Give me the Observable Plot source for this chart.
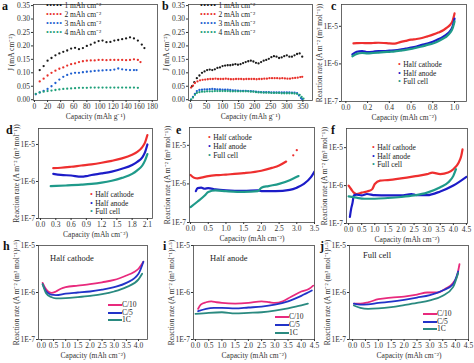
<!DOCTYPE html>
<html><head><meta charset="utf-8">
<script src="https://cdn.jsdelivr.net/npm/d3@7"></script>
<script src="https://cdn.jsdelivr.net/npm/@observablehq/plot@0.6"></script>
<style>
body{margin:0;background:#fff;}
#wrap{position:relative;width:474px;height:363px;overflow:hidden;font-family:"Liberation Serif",serif;background:#fff;}
#wrap svg{position:absolute;left:0;top:0;}
.pl{position:absolute;font-family:"Liberation Serif",serif;font-weight:bold;font-size:12px;line-height:1;color:#111;}
.leg{position:absolute;font-family:"Liberation Serif",serif;font-size:7.5px;line-height:1;white-space:nowrap;color:#222;}
.ttl{position:absolute;font-family:"Liberation Serif",serif;font-size:8.5px;line-height:1;white-space:nowrap;color:#222;}
</style></head><body><div id="wrap"></div>
<script>
// ---------- data ----------
// panel a: J (mA cm^-2) vs capacity (mAh g^-1)
const a1 = [[8,0.11],[14,0.125],[20,0.145],[26,0.155],[32,0.165],[38,0.172],[44,0.178],[50,0.183],[56,0.19],[62,0.193],[68,0.188],[74,0.192],[80,0.2],[86,0.205],[92,0.212],[98,0.218],[104,0.22],[110,0.214],[116,0.215],[122,0.22],[128,0.222],[134,0.225],[140,0.228],[146,0.232],[152,0.228],[158,0.22],[164,0.205],[168,0.192]];
const a2 = [[8,0.068],[14,0.078],[20,0.09],[26,0.1],[32,0.108],[38,0.115],[44,0.12],[50,0.127],[56,0.132],[62,0.135],[68,0.14],[74,0.143],[80,0.145],[86,0.146],[92,0.146],[98,0.148],[104,0.148],[110,0.147],[116,0.148],[122,0.148],[128,0.148],[134,0.148],[140,0.147],[146,0.148],[152,0.15],[158,0.148],[162,0.14]];
const a3 = [[2,0.02],[8,0.027],[14,0.033],[20,0.04],[26,0.05],[32,0.062],[38,0.075],[44,0.085],[50,0.092],[56,0.097],[62,0.1],[68,0.1],[74,0.102],[80,0.104],[86,0.105],[92,0.107],[98,0.108],[104,0.109],[110,0.11],[116,0.11],[122,0.112],[128,0.116],[134,0.113],[140,0.111],[146,0.11],[152,0.11],[156,0.11]];
const a4 = [[2,0.022],[8,0.027],[14,0.03],[20,0.032],[26,0.034],[32,0.036],[38,0.038],[44,0.04],[50,0.041],[56,0.042],[62,0.043],[68,0.044],[74,0.044],[80,0.044],[86,0.045],[92,0.045],[98,0.045],[104,0.045],[110,0.045],[116,0.045],[122,0.045],[128,0.045],[134,0.045],[140,0.045],[146,0.045],[152,0.045],[158,0.044]];
// panel b
const b1 = [[5,0.05],[12,0.065],[20,0.08],[28,0.09],[36,0.1],[44,0.105],[52,0.11],[60,0.112],[68,0.11],[76,0.113],[84,0.118],[92,0.12],[100,0.125],[108,0.127],[116,0.128],[124,0.128],[132,0.13],[140,0.132],[148,0.13],[156,0.132],[164,0.136],[172,0.14],[180,0.143],[188,0.145],[196,0.142],[204,0.137],[212,0.135],[220,0.14],[228,0.145],[236,0.148],[244,0.152],[252,0.158],[260,0.162],[268,0.16],[276,0.155],[284,0.157],[292,0.162],[300,0.165],[308,0.16],[316,0.16],[324,0.165],[332,0.17],[340,0.172],[348,0.16]];
const b2 = [[2,0.045],[8,0.052],[14,0.062],[22,0.068],[30,0.072],[38,0.074],[46,0.075],[54,0.076],[62,0.077],[70,0.077],[78,0.078],[86,0.077],[94,0.077],[102,0.077],[110,0.078],[118,0.077],[126,0.076],[134,0.076],[142,0.077],[150,0.077],[158,0.077],[166,0.076],[174,0.077],[182,0.077],[190,0.077],[198,0.077],[206,0.076],[214,0.077],[222,0.077],[230,0.078],[238,0.078],[246,0.08],[254,0.08],[262,0.08],[270,0.08],[278,0.079],[286,0.08],[294,0.079],[302,0.078],[310,0.078],[318,0.08],[326,0.081],[334,0.082],[342,0.084],[348,0.085]];
const b3 = [[2,0.0],[8,0.01],[14,0.022],[20,0.032],[28,0.036],[36,0.037],[44,0.038],[52,0.038],[60,0.039],[68,0.04],[76,0.039],[84,0.038],[92,0.038],[100,0.037],[108,0.037],[116,0.037],[124,0.036],[132,0.035],[140,0.035],[148,0.034],[156,0.033],[164,0.033],[172,0.033],[180,0.032],[188,0.032],[196,0.031],[204,0.03],[212,0.029],[220,0.028],[228,0.028],[236,0.028],[244,0.028],[252,0.027],[260,0.027],[268,0.027],[276,0.027],[284,0.027],[292,0.027],[300,0.027],[308,0.027],[316,0.026],[324,0.026],[332,0.024],[338,0.016],[344,0.006],[348,0.002]];
const b4 = [[2,0.0],[8,0.008],[14,0.018],[20,0.025],[28,0.028],[36,0.03],[44,0.03],[52,0.031],[60,0.031],[68,0.031],[76,0.032],[84,0.032],[92,0.032],[100,0.032],[108,0.032],[116,0.032],[124,0.031],[132,0.031],[140,0.031],[148,0.031],[156,0.031],[164,0.031],[172,0.031],[180,0.031],[188,0.03],[196,0.03],[204,0.028],[212,0.027],[220,0.027],[228,0.026],[236,0.026],[244,0.026],[252,0.025],[260,0.025],[268,0.025],[276,0.025],[284,0.024],[292,0.024],[300,0.024],[308,0.024],[316,0.024],[324,0.023],[332,0.022],[340,0.018],[346,0.01],[352,0.004]];
// panel c
const cCat = [[0.07,3.5e-6],[0.1,3.55e-6],[0.15,3.6e-6],[0.2,3.55e-6],[0.25,3.6e-6],[0.3,3.65e-6],[0.35,3.6e-6],[0.4,3.5e-6],[0.45,3.45e-6],[0.5,3.8e-6],[0.55,4.1e-6],[0.6,4.4e-6],[0.65,4.6e-6],[0.7,4.9e-6],[0.75,5.4e-6],[0.8,6.0e-6],[0.85,6.8e-6],[0.9,8.0e-6],[0.93,9.2e-6],[0.96,1.1e-5],[0.98,1.35e-5],[1.0,2.2e-5]];
const cAn = [[0.06,1.8e-6],[0.1,2.1e-6],[0.15,2.2e-6],[0.2,2.05e-6],[0.25,2.1e-6],[0.3,2.2e-6],[0.35,2.2e-6],[0.4,2.25e-6],[0.45,2.3e-6],[0.5,2.4e-6],[0.55,2.55e-6],[0.6,2.7e-6],[0.65,2.9e-6],[0.7,3.2e-6],[0.75,3.5e-6],[0.8,3.9e-6],[0.85,4.5e-6],[0.9,5.4e-6],[0.93,6.2e-6],[0.96,7.5e-6],[0.98,9.5e-6],[1.0,1.6e-5]];
const cFull = [[0.06,1.6e-6],[0.1,1.85e-6],[0.15,1.95e-6],[0.2,1.9e-6],[0.25,1.95e-6],[0.3,2.0e-6],[0.35,2.05e-6],[0.4,2.1e-6],[0.45,2.15e-6],[0.5,2.25e-6],[0.55,2.35e-6],[0.6,2.5e-6],[0.65,2.7e-6],[0.7,2.9e-6],[0.75,3.2e-6],[0.8,3.5e-6],[0.85,4.0e-6],[0.9,4.8e-6],[0.93,5.5e-6],[0.96,6.8e-6],[0.98,8.5e-6],[1.0,1.35e-5]];
// panel d
const dCat = [[0.25,2.3e-6],[0.4,2.35e-6],[0.6,2.5e-6],[0.8,2.7e-6],[1.0,2.9e-6],[1.2,3.2e-6],[1.4,3.6e-6],[1.6,4.2e-6],[1.8,5.3e-6],[1.9,6.3e-6],[2.0,8.5e-6],[2.05,1.1e-5],[2.1,1.8e-5]];
const dAn = [[0.25,1.6e-6],[0.4,1.5e-6],[0.6,1.45e-6],[0.8,1.35e-6],[0.9,1.4e-6],[1.0,1.5e-6],[1.2,1.65e-6],[1.4,1.85e-6],[1.6,2.2e-6],[1.8,2.8e-6],[1.9,3.4e-6],[2.0,4.5e-6],[2.05,6.0e-6],[2.1,1.0e-5]];
const dFull = [[0.2,7.5e-7],[0.5,7.8e-7],[0.8,8.2e-7],[1.0,8.6e-7],[1.2,9.3e-7],[1.4,1.05e-6],[1.6,1.25e-6],[1.8,1.6e-6],[1.9,2.0e-6],[2.0,2.7e-6],[2.05,3.6e-6],[2.1,5.5e-6]];
// panel e
const eCat = [[0.0,1.7e-6],[0.1,1.45e-6],[0.2,1.4e-6],[0.3,1.45e-6],[0.5,1.6e-6],[0.8,1.7e-6],[1.0,1.75e-6],[1.5,1.9e-6],[2.0,2.2e-6],[2.3,2.6e-6],[2.5,3.0e-6],[2.7,3.8e-6]];
const eCatEnd = [[2.9,5.5e-6],[3.0,7.5e-6]];
const eAn = [[0.15,6.5e-7],[0.2,7.8e-7],[0.3,8.0e-7],[0.4,7.5e-7],[0.5,7.8e-7],[0.7,7.2e-7],[1.0,6.8e-7],[1.5,6.6e-7],[1.9,6.8e-7],[2.0,6.5e-7],[2.4,6.5e-7],[2.8,7.0e-7],[3.0,8.0e-7],[3.2,1.0e-6],[3.4,1.5e-6],[3.5,2.1e-6]];
const eFull = [[0.0,2.5e-7],[0.2,3.5e-7],[0.4,5.0e-7],[0.5,6.2e-7],[0.7,6.8e-7],[1.0,6.5e-7],[1.5,6.2e-7],[1.9,6.5e-7],[2.0,8.0e-7],[2.2,8.8e-7],[2.5,1.0e-6],[2.8,1.25e-6],[3.05,1.6e-6]];
// panel f
const fCat = [[0.0,1.0e-6],[0.1,8.0e-7],[0.2,6.5e-7],[0.3,6.0e-7],[0.5,6.5e-7],[0.7,7.0e-7],[0.9,8.0e-7],[1.0,1.1e-6],[1.2,1.35e-6],[1.5,1.4e-6],[2.0,1.55e-6],[2.5,1.75e-6],[3.0,2.0e-6],[3.2,2.2e-6],[3.5,2.0e-6],[3.8,2.2e-6],[4.0,2.7e-6],[4.2,4.0e-6],[4.3,6.0e-6],[4.35,9.0e-6]];
const fAn = [[0.05,1.5e-7],[0.1,2.5e-7],[0.15,3.5e-7],[0.2,5.5e-7],[0.3,5.8e-7],[0.5,5.5e-7],[0.7,6.0e-7],[1.0,5.6e-7],[1.5,5.5e-7],[2.0,5.5e-7],[2.4,6.0e-7],[2.6,5.6e-7],[3.0,5.6e-7],[3.5,7.0e-7],[4.0,1.0e-6],[4.5,1.7e-6]];
const fFull = [[0.0,5.2e-7],[0.3,4.8e-7],[0.6,4.5e-7],[1.0,4.5e-7],[1.5,4.7e-7],[2.0,5.0e-7],[2.5,5.5e-7],[3.0,6.5e-7],[3.5,9.0e-7],[3.8,1.2e-6],[4.0,1.8e-6],[4.1,2.7e-6]];
// panel h (half cathode, rates)
const hC10 = [[0.05,1.6e-6],[0.2,1.15e-6],[0.4,9.8e-7],[0.6,1.05e-6],[0.8,1.2e-6],[1.0,1.3e-6],[1.5,1.4e-6],[2.0,1.5e-6],[2.5,1.65e-6],[3.0,1.85e-6],[3.5,2.3e-6],[3.8,2.7e-6],[4.0,3.2e-6],[4.2,4.5e-6]];
const hC5 = [[0.05,1.5e-6],[0.2,1.05e-6],[0.4,9.0e-7],[0.6,8.8e-7],[1.0,9.5e-7],[1.5,1.0e-6],[2.0,1.05e-6],[2.5,1.15e-6],[3.0,1.3e-6],[3.5,1.6e-6],[4.0,2.5e-6],[4.2,4.5e-6]];
const h1C = [[0.05,1.5e-6],[0.2,9.5e-7],[0.4,8.0e-7],[0.6,7.5e-7],[1.0,7.6e-7],[1.5,8.0e-7],[2.0,8.5e-7],[2.5,9.2e-7],[3.0,1.05e-6],[3.5,1.3e-6],[4.0,1.9e-6],[4.15,2.5e-6]];
// panel i (half anode, rates)
const iC10 = [[0.1,4.5e-7],[0.2,5.5e-7],[0.4,6.2e-7],[0.6,6.5e-7],[0.8,6.2e-7],[1.0,6.0e-7],[1.5,5.8e-7],[2.0,6.0e-7],[2.5,6.5e-7],[2.8,6.2e-7],[3.0,6.0e-7],[3.3,6.5e-7],[3.6,8.0e-7],[4.0,1.05e-6],[4.3,1.2e-6],[4.45,1.4e-6]];
const iC5 = [[0.1,4.0e-7],[0.4,4.5e-7],[0.7,4.7e-7],[1.0,4.7e-7],[1.5,4.6e-7],[2.0,4.8e-7],[2.5,5.0e-7],[3.0,5.5e-7],[3.5,6.5e-7],[4.0,8.5e-7],[4.4,1.1e-6]];
const i1C = [[0.0,3.5e-7],[0.5,3.7e-7],[1.0,3.8e-7],[1.5,3.6e-7],[2.0,3.7e-7],[2.5,3.8e-7],[3.0,4.1e-7],[3.5,4.6e-7],[4.0,5.3e-7],[4.25,5.8e-7]];
// panel j (full cell, rates)
const jC10 = [[0.05,5.8e-7],[0.3,5.8e-7],[0.6,6.2e-7],[1.0,7.2e-7],[1.5,7.8e-7],[2.0,8.2e-7],[2.5,9.0e-7],[2.9,1.0e-6],[3.3,1.0e-6],[3.6,1.2e-6],[3.9,1.6e-6],[4.05,2.2e-6],[4.15,4.0e-6]];
const jC5 = [[0.05,5.8e-7],[0.3,5.5e-7],[0.6,5.6e-7],[1.0,6.0e-7],[1.5,6.4e-7],[2.0,7.0e-7],[2.5,7.8e-7],[3.0,8.8e-7],[3.5,1.1e-6],[3.9,1.5e-6],[4.1,2.8e-6]];
const j1C = [[0.05,5.3e-7],[0.3,4.7e-7],[0.6,4.5e-7],[1.0,4.6e-7],[1.5,4.9e-7],[2.0,5.4e-7],[2.5,6.0e-7],[3.0,6.8e-7],[3.5,8.5e-7],[3.9,1.3e-6],[4.1,2.6e-6]];

// ticks & labels
const jTicks = [0,0.05,0.1,0.15,0.2,0.25,0.3,0.35];
const aTicksX = [0,20,40,60,80,100,120,140,160,180];
const bTicksX = [0,50,100,150,200,250,300,350];
const cTicksX = [0,0.2,0.4,0.6,0.8,1.0];
const dTicksX = [0,0.3,0.6,0.9,1.2,1.5,1.8,2.1];
const eTicksX = [0,0.5,1,1.5,2,2.5,3,3.5];
const fTicksX = [0,0.5,1,1.5,2,2.5,3,3.5,4,4.5];
const hTicksX = [0,0.5,1,1.5,2,2.5,3,3.5,4];
const logTicks = [1e-7,1e-6,1e-5];
const cellSeries = ["Half cathode","Half anode","Full cell"];
const rateSeries = ["C/10","C/5","1C"];
const loadSeries = ["1 mAh cm\u207B\u00B2","2 mAh cm\u207B\u00B2","3 mAh cm\u207B\u00B2","4 mAh cm\u207B\u00B2"];
const labJ = "J (mA cm\u207B\u00B2)";
const labCapG = "Capacity (mAh g\u207B\u00B9)";
const labCapA = "Capacity (mAh cm\u207B\u00B2)";
const labRate = "Reaction rate (A m\u207B\u00B2 (m\u00B3 mol\u207B\u00B9))";
const labRate2 = "Reaction rate (A m\u207B\u00B2 (m\u00B3 mol\u207B\u00B9)\u00B9\u00B7\u2075)";

const loadColors = ["#1a1a1a","#e8302a","#1f5fd0","#1fa07a"];
const cellColors = ["#ee2f2f","#1c1cc8","#1f9a8a"];
const rateColors = ["#e82a7d","#2233c8","#2a8a80"];

// ---------- drawing ----------
const W = 474, H = 363;
const wrap = document.getElementById("wrap");
const fmtLog = d => "1E" + Math.round(Math.log10(d));
const X = d => d[0], Y = d => d[1];

function panel(c){
  const [l,t,r,b] = c.frame;
  const svg = Plot.plot({
    width: W, height: H,
    marginLeft: l, marginTop: t, marginRight: W - r, marginBottom: H - b,
    style: {background: "transparent", fontFamily: "'Liberation Serif', serif", fontSize: "7.5px", color: "#333", overflow: "visible"},
    x: {domain: c.xDomain},
    y: {type: c.log ? "log" : "linear", domain: c.yDomain},
    marks: [
      ...c.marks,
      Plot.frame({stroke: "#444", strokeWidth: 0.8}),
      Plot.axisX({ticks: c.xTicks, tickFormat: c.xFmt, tickSize: 2, tickPadding: 1.5, fontSize: 7.5, label: c.xLabel, labelAnchor: "center", labelArrow: "none", labelOffset: c.xOff ?? 18}),
      Plot.axisY({ticks: c.yTicks, tickFormat: c.yFmt, tickSize: 2, tickPadding: 1.5, fontSize: 7.5, label: c.yLabel, labelAnchor: "center", labelArrow: "none", labelOffset: c.yOff ?? 25})
    ]
  });
  wrap.appendChild(svg);
}
const dots = (data, color) => Plot.dot(data, {x: X, y: Y, r: 1.15, fill: color, stroke: null});
const thick = (data, color, w) => Plot.line(data, {x: X, y: Y, stroke: color, strokeWidth: w ?? 2.2, curve: "monotone-x", clip: true});

panel({frame:[33,4,157,100], xDomain:[-1.5,188], yDomain:[-0.003,0.354], xTicks:aTicksX, xFmt:d3.format("d"), yTicks:jTicks, yFmt:d3.format(".2f"), xLabel:labCapG, yLabel:labJ,
  marks:[a1,a2,a3,a4].map((s,i)=>dots(s, loadColors[i]))});
panel({frame:[188,4,312,100], xDomain:[-6,380], yDomain:[-0.003,0.354], xTicks:bTicksX, xFmt:d3.format("d"), yTicks:jTicks, yFmt:d3.format(".2f"), xLabel:labCapG, yLabel:labJ,
  marks:[b1,b2,b3,b4].map((s,i)=>dots(s, loadColors[i]))});
panel({frame:[341,4,466,101], log:true, xDomain:[-0.04,1.11], yDomain:[1e-7,3.8e-5], xTicks:cTicksX, xFmt:d3.format(".1f"), yTicks:logTicks, yFmt:fmtLog, xLabel:labCapA, yLabel:labRate,
  marks:[thick(cCat,cellColors[0]), thick(cAn,cellColors[1]), thick(cFull,cellColors[2])]});
panel({frame:[38,128,152,218], log:true, xDomain:[-0.04,2.2], yDomain:[1e-7,2.7e-5], xTicks:dTicksX, xFmt:d3.format(".1f"), yTicks:logTicks, yFmt:fmtLog, xLabel:labCapA, yLabel:labRate,
  marks:[thick(dCat,cellColors[0]), thick(dAn,cellColors[1]), thick(dFull,cellColors[2])]});
panel({frame:[189,127,314,222], log:true, xDomain:[-0.03,3.5], yDomain:[1e-7,2.9e-5], xTicks:eTicksX, xFmt:d3.format(".1f"), yTicks:logTicks, yFmt:fmtLog, xLabel:labCapA, yLabel:labRate,
  marks:[thick(eCat,cellColors[0]), dots(eCatEnd,cellColors[0]), thick(eAn,cellColors[1]), thick(eFull,cellColors[2])]});
panel({frame:[346,128,467,223], log:true, xDomain:[-0.08,4.54], yDomain:[1e-7,3.2e-5], xTicks:fTicksX, xFmt:d3.format(".1f"), yTicks:logTicks, yFmt:fmtLog, xLabel:labCapA, yLabel:labRate,
  marks:[thick(fCat,cellColors[0]), thick(fAn,cellColors[1]), thick(fFull,cellColors[2])]});
panel({frame:[38,245,147,339], log:true, xDomain:[-0.12,4.37], yDomain:[1e-7,1e-5], xTicks:hTicksX, xFmt:d3.format(".1f"), yTicks:logTicks, yFmt:fmtLog, xLabel:labCapA, yLabel:labRate2,
  marks:[thick(hC10,rateColors[0],1.8), thick(hC5,rateColors[1],1.8), thick(h1C,rateColors[2],1.8)]});
panel({frame:[193,245,314,339], log:true, xDomain:[-0.075,4.5], yDomain:[1e-7,1e-5], xTicks:fTicksX, xFmt:d3.format(".1f"), yTicks:logTicks, yFmt:fmtLog, xLabel:labCapA, yLabel:labRate2,
  marks:[thick(iC10,rateColors[0],1.8), thick(iC5,rateColors[1],1.8), thick(i1C,rateColors[2],1.8)]});
panel({frame:[349,245,468,339], log:true, xDomain:[-0.12,4.5], yDomain:[1e-7,1e-5], xTicks:fTicksX, xFmt:d3.format(".1f"), yTicks:logTicks, yFmt:fmtLog, xLabel:labCapA, yLabel:labRate2,
  marks:[thick(jC10,rateColors[0],1.8), thick(jC5,rateColors[1],1.8), thick(j1C,rateColors[2],1.8)]});

// ---------- panel letters, legends, titles (HTML overlays) ----------
function el(cls, x, y, html, extra){
  const d = document.createElement("div");
  d.className = cls; d.style.left = x + "px"; d.style.top = y + "px";
  if (extra) Object.assign(d.style, extra);
  d.innerHTML = html; wrap.appendChild(d); return d;
}
[["a",2,0],["b",162,0],["c",331,0],["d",6,124],["e",176,124],["f",331,124],["h",3,240],["i",163,240],["j",320,240]]
  .forEach(([t,x,y]) => el("pl", x, y, t));

function dotLegend(x, y, step, names, colors, dotW){
  names.forEach((n,i) => {
    el("leg", x, y + i*step - 3.8, `<span style="color:${colors[i]};font-size:8px;letter-spacing:0.5px">${dotW}</span>&nbsp;${n}`);
  });
}
dotLegend(46, 6, 9, loadSeries, loadColors, "\u2022\u2022\u2022\u2022\u2022");
dotLegend(200, 6, 9, loadSeries, loadColors, "\u2022\u2022\u2022\u2022\u2022");
dotLegend(398, 65, 8.5, cellSeries, cellColors, "\u2022");
dotLegend(90, 195, 8.5, cellSeries, cellColors, "\u2022");
dotLegend(208, 138, 9, cellSeries, cellColors, "\u2022");
dotLegend(372, 148, 8.5, cellSeries, cellColors, "\u2022");

function lineLegend(x, y, step, len, names, colors){
  names.forEach((n,i) => {
    el("leg", x, y + i*step - 3.8, `<span style="display:inline-block;width:${len}px;height:2px;background:${colors[i]};vertical-align:middle"></span>${n}`);
  });
}
lineLegend(108, 305, 7.5, 14, rateSeries, rateColors);
lineLegend(275, 317, 8, 14, rateSeries, rateColors);
lineLegend(423, 314, 7.5, 14, rateSeries, rateColors);

el("ttl", 50, 254, "Half cathode");
el("ttl", 210, 254, "Half anode");
el("ttl", 363, 251, "Full cell");
</script></body></html>
